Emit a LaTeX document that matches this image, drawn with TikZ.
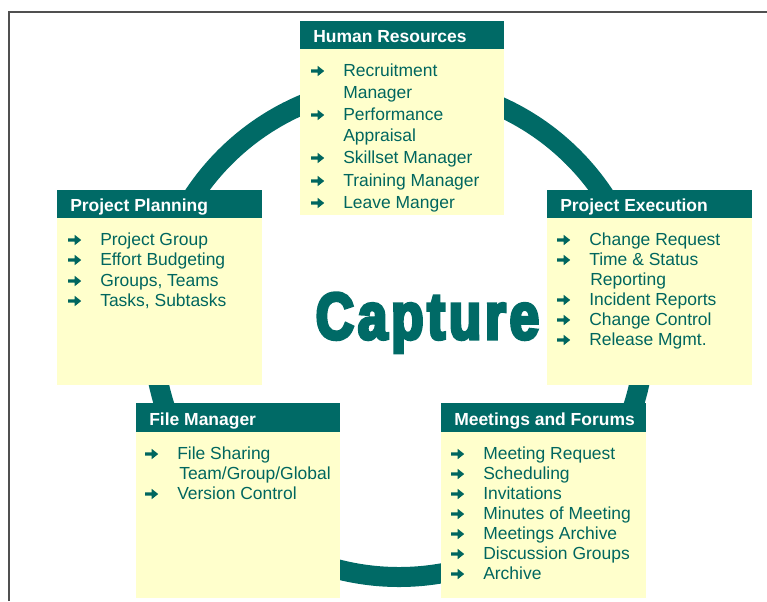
\documentclass[tikz,border=0pt]{standalone}
\usepackage{fontspec}
\setmainfont{Liberation Sans}
\newfontfamily\capfont[FakeStretch=0.8,FakeBold=5,LetterSpace=6]{Liberation Sans Bold}
\definecolor{tealc}{HTML}{006A66}
\definecolor{txtc}{HTML}{00665F}
\definecolor{bodyc}{HTML}{FFFFCC}
\definecolor{framec}{HTML}{505050}
\tikzset{
  hdr/.style={fill=tealc, draw=none},
  bodybox/.style={fill=bodyc, draw=none},
  hdrtxt/.style={anchor=base west, inner sep=0pt, text=white, font=\fontsize{13.1}{15}\selectfont\bfseries},
  itemtxt/.style={anchor=base west, inner sep=0pt, text=txtc, font=\fontsize{13.1}{15}\selectfont},
  barrow/.pic={\fill[txtc] (0pt,-1.2pt) -- (5pt,-1.2pt) -- (5pt,-3.9pt) -- (9.9pt,0pt) -- (5pt,3.9pt) -- (5pt,1.2pt) -- (0pt,1.2pt) -- cycle;}
}
\newcommand\bitem[4]{\node[itemtxt] (#1) at (#2,#3) {#4};
  \pic at ([xshift=-24pt,yshift=3.75pt]#1.base west) {barrow};}
\newcommand\citem[4]{\node[itemtxt] (#1) at (#2,#3) {#4};}
\newcommand\panel[7]{% name, x1, y1, y2 (header bottom), y3 (body bottom), width, title
  \path[bodybox] (#2,#4) rectangle ({#2+#6},#5);
  \path[hdr] (#2,#3) rectangle ({#2+#6},#4);
  \node[hdrtxt] (#1) at ({#2+13},{#4-7}) {#7};}
\begin{document}
\begin{tikzpicture}[x=0.75pt,y=-0.75pt]
\useasboundingbox (0,0) rectangle (767,601);
% frame
\draw[framec, line width=0.8pt] (9,601) -- (9,12) -- (767,12);
% ring
\coordinate (c) at (399,331);
\draw[tealc, line width=15pt] (c) circle[radius=184.5pt];
% panels
\panel{hrh}{300}{21}{49}{215}{204}{Human Resources}
\panel{pph}{57}{190}{218}{385}{205}{Project Planning}
\panel{peh}{547}{190}{218}{385}{205}{Project Execution}
\panel{fmh}{136}{403}{432}{598}{204}{File Manager}
\panel{mfh}{441}{403}{432}{598}{205}{Meetings and Forums}
% Capture
\node[anchor=base, inner sep=0pt, text=tealc, font=\capfont\fontsize{49.5}{50}\selectfont] (cap) at (427.5,339) {Capture};
% HR items
\bitem{hr1}{343}{76}{Recruitment}
\citem{hr2}{343}{98}{Manager}
\bitem{hr3}{343}{120}{Performance}
\citem{hr4}{343}{141}{Appraisal}
\bitem{hr5}{343}{163}{Skillset Manager}
\bitem{hr6}{343}{186}{Training Manager}
\bitem{hr7}{343}{208}{Leave Manger}
% Planning
\bitem{pp1}{100}{245}{Project Group}
\bitem{pp2}{100}{265}{Effort Budgeting}
\bitem{pp3}{100}{286}{Groups, Teams}
\bitem{pp4}{100}{306}{Tasks, Subtasks}
% Execution
\bitem{pe1}{589}{245}{Change Request}
\bitem{pe2}{589}{265}{Time \& Status}
\citem{pe3}{590}{285}{Reporting}
\bitem{pe4}{589}{305}{Incident Reports}
\bitem{pe5}{589}{325}{Change Control}
\bitem{pe6}{589}{345}{Release Mgmt.}
% File manager
\bitem{fm1}{177}{459}{File Sharing}
\citem{fm2}{179}{479}{Team/Group/Global}
\bitem{fm3}{177}{499}{Version Control}
% Meetings
\bitem{mf1}{483}{459}{Meeting Request}
\bitem{mf2}{483}{479}{Scheduling}
\bitem{mf3}{483}{499}{Invitations}
\bitem{mf4}{483}{519}{Minutes of Meeting}
\bitem{mf5}{483}{539}{Meetings Archive}
\bitem{mf6}{483}{559}{Discussion Groups}
\bitem{mf7}{483}{579}{Archive}
\end{tikzpicture}
\end{document}
